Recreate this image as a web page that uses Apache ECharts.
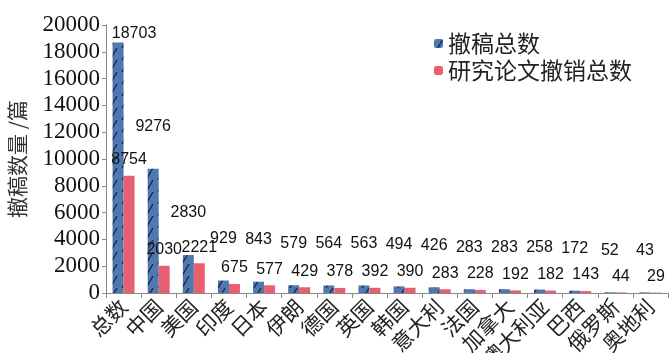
<!DOCTYPE html>
<html>
<head>
<meta charset="utf-8">
<script src="https://cdn.jsdelivr.net/npm/echarts@6/dist/echarts.min.js"></script>
<style>
  html, body { margin: 0; padding: 0; background: #fff; }
  #chart { width: 669px; height: 353px; }
</style>
</head>
<body>
<div id="chart"></div>
<script>
const categories = ['总数', '中国', '美国', '印度', '日本', '伊朗', '德国', '英国', '韩国', '意大利', '法国', '加拿大', '澳大利亚', '巴西', '俄罗斯', '奥地利'];
const totalRetracted = [18703, 9276, 2830, 929, 843, 579, 564, 563, 494, 426, 283, 283, 258, 172, 52, 43];
const researchRetracted = [8754, 2030, 2221, 675, 577, 429, 378, 392, 390, 283, 228, 192, 182, 143, 44, 29];
const yTicks = [0, 2000, 4000, 6000, 8000, 10000, 12000, 14000, 16000, 18000, 20000];

// hatched blue fill
const hatch = document.createElement('canvas');
hatch.width = 12;
hatch.height = 12;
const ctx = hatch.getContext('2d');
ctx.fillStyle = '#4f78b0';
ctx.fillRect(0, 0, 12, 12);
ctx.strokeStyle = '#17263d';
ctx.lineWidth = 1.3;
ctx.beginPath();
ctx.moveTo(2, 12);
ctx.lineTo(9, 0);
ctx.stroke();

const labelFont = { fontFamily: 'Liberation Sans', fontSize: 16, color: '#111' };

let chart = echarts.init(document.getElementById('chart'));
let option = {
  backgroundColor: '#fff',
  animation: false,
  grid: { left: 106, right: 1, top: 25, bottom: 60, outerBoundsMode: 'none' },
  legend: {
    orient: 'vertical',
    left: 429,
    top: 27,
    itemWidth: 9,
    itemHeight: 9,
    itemGap: 4,
    textStyle: { fontFamily: 'Noto Sans CJK SC', fontSize: 23, color: '#222' },
    data: ['撤稿总数', '研究论文撤销总数']
  },
  xAxis: {
    type: 'category',
    data: categories,
    axisLine: { lineStyle: { color: '#888' } },
    axisTick: { show: true, length: 5, lineStyle: { color: '#888' } },
    axisLabel: {
      interval: 0,
      rotate: 45,
      margin: 10,
      fontFamily: 'Noto Sans CJK SC',
      fontSize: 21,
      color: '#222'
    }
  },
  yAxis: {
    type: 'value',
    min: 0,
    max: yTicks[yTicks.length - 1],
    interval: yTicks[1] - yTicks[0],
    name: '撤稿数量 /篇',
    nameLocation: 'middle',
    nameGap: 78,
    nameTextStyle: { fontFamily: 'Noto Sans CJK SC', fontSize: 21, color: '#333' },
    splitLine: { show: false },
    axisLine: { show: true, lineStyle: { color: '#888' } },
    axisTick: { show: true, length: 4, lineStyle: { color: '#888' } },
    axisLabel: {
      margin: 6,
      formatter: v => String(v),
      fontFamily: 'Liberation Serif',
      fontSize: 23,
      color: '#111'
    }
  },
  series: [
    {
      name: '撤稿总数',
      type: 'bar',
      barWidth: 11,
      barGap: '0%',
      itemStyle: { color: { image: hatch, repeat: 'repeat' } },
      label: Object.assign({ show: true, position: 'top', distance: 34 }, labelFont),
      data: totalRetracted.map((v, i) => i === 0 ? { value: v, label: { distance: 1, offset: [16, 0] } } : v)
    },
    {
      name: '研究论文撤销总数',
      type: 'bar',
      barWidth: 11,
      itemStyle: { color: '#e8606f' },
      label: Object.assign({ show: true, position: 'top', distance: 8 }, labelFont),
      data: researchRetracted
    }
  ]
};
option && chart.setOption(option);
</script>
</body>
</html>
